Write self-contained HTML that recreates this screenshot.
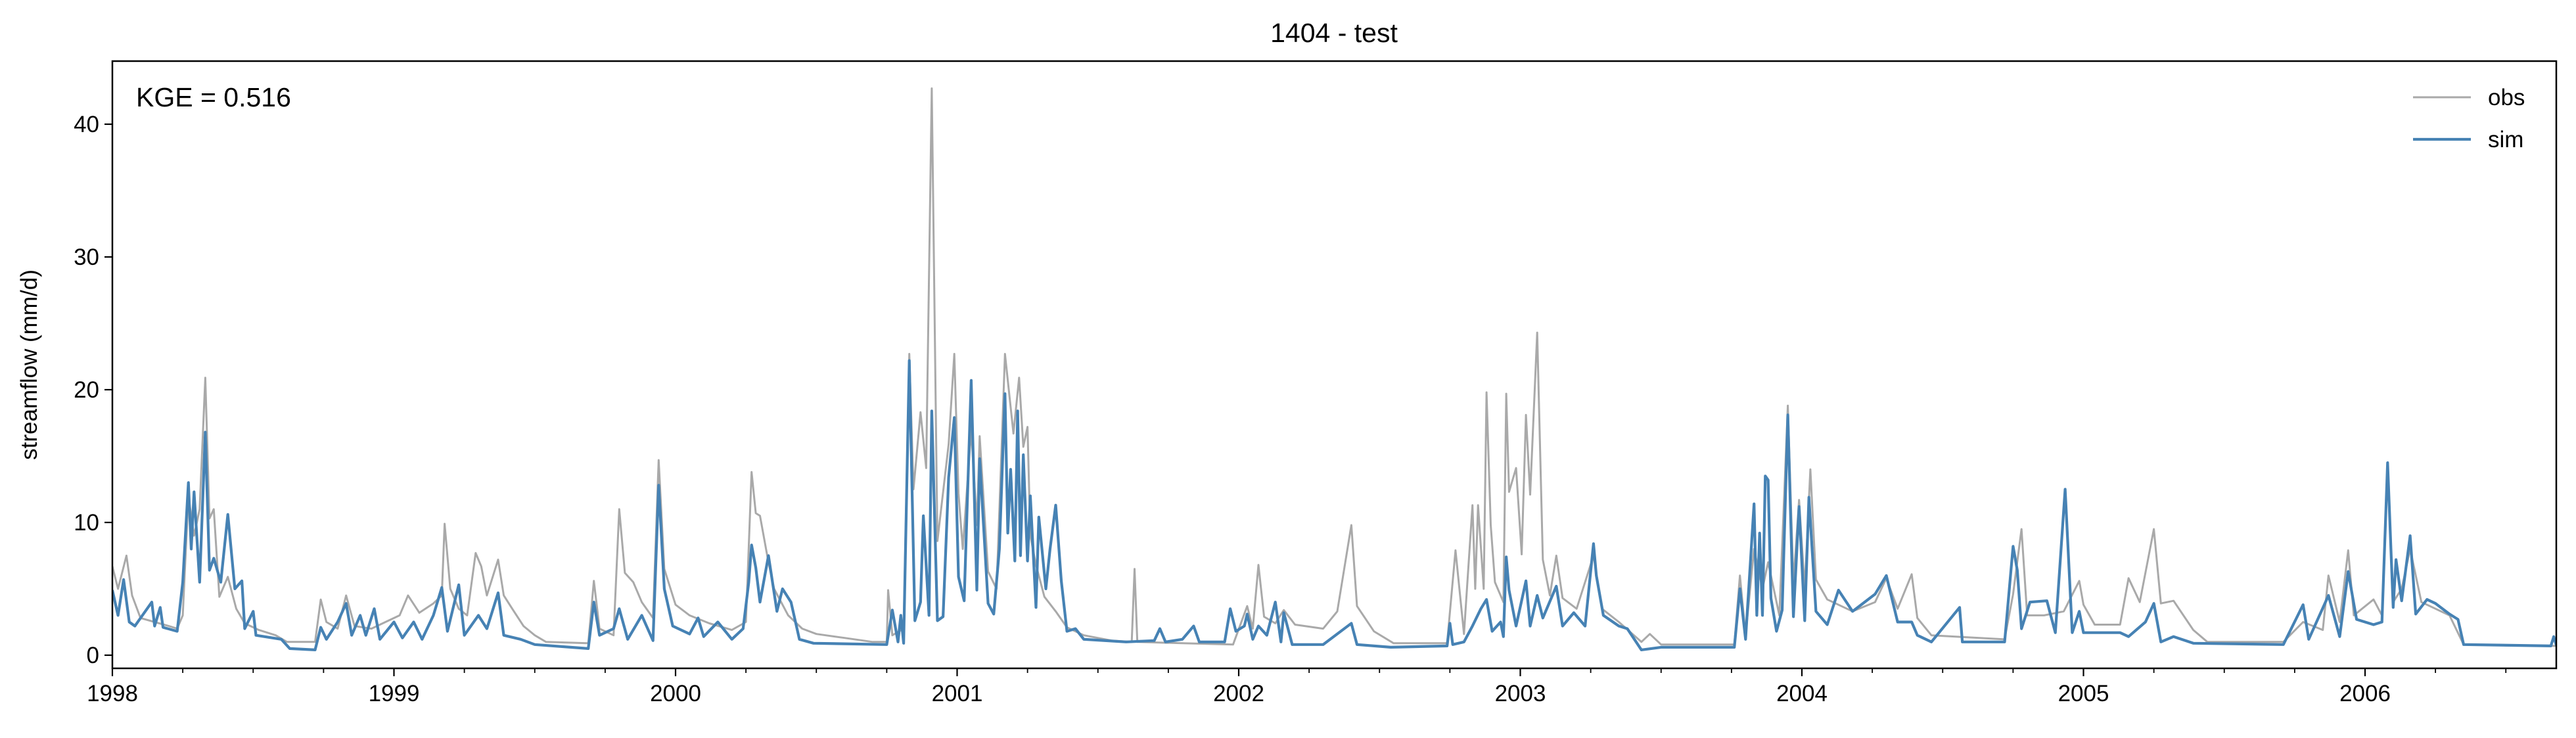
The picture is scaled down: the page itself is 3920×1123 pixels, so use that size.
<!DOCTYPE html>
<html><head><meta charset="utf-8"><style>
html,body{margin:0;padding:0;background:#fff;}
svg text{font-family:"Liberation Sans","DejaVu Sans",sans-serif;fill:#000;}
</style></head><body>
<svg id="chart" width="3920" height="1118" viewBox="0 0 3920 1118" xmlns="http://www.w3.org/2000/svg">
<defs><clipPath id="plotclip"><rect x="171" y="93" width="3719" height="924"/></clipPath></defs>
<rect width="3920" height="1118" fill="#fff"/>
<text x="2030" y="64" font-size="41" text-anchor="middle">1404 - test</text>
<text x="0" y="0" font-size="35" text-anchor="middle" transform="translate(56,555) rotate(-90)">streamflow (mm/d)</text>
<g id="ticks"></g>
<g id="series" clip-path="url(#plotclip)"></g>
<rect x="171" y="93" width="3719" height="924" fill="none" stroke="#000" stroke-width="2.5"/>
<text x="207" y="162" font-size="41">KGE = 0.516</text>
<g>
<line x1="3672" y1="148" x2="3760" y2="148" stroke="#a9a9a9" stroke-width="3"/>
<text x="3786" y="160" font-size="35">obs</text>
<line x1="3672" y1="212" x2="3760" y2="212" stroke="#4682b4" stroke-width="4.2"/>
<text x="3786" y="224" font-size="35">sim</text>
</g>
</svg>
<script>
const yTickValues = [0, 10, 20, 30, 40];
const xTickYears = [1998, 1999, 2000, 2001, 2002, 2003, 2004, 2005, 2006];
const obsDates = [1998.00,1998.02,1998.05,1998.07,1998.10,1998.15,1998.20,1998.23,1998.25,1998.27,1998.29,1998.31,1998.33,1998.345,1998.36,1998.38,1998.41,1998.44,1998.47,1998.52,1998.58,1998.62,1998.72,1998.74,1998.76,1998.80,1998.83,1998.86,1998.92,1998.97,1999.02,1999.05,1999.09,1999.14,1999.17,1999.18,1999.20,1999.23,1999.26,1999.29,1999.31,1999.33,1999.37,1999.39,1999.42,1999.46,1999.50,1999.54,1999.69,1999.71,1999.73,1999.78,1999.80,1999.82,1999.85,1999.88,1999.92,1999.94,1999.96,2000.00,2000.05,2000.12,2000.20,2000.25,2000.27,2000.285,2000.30,2000.33,2000.35,2000.40,2000.45,2000.50,2000.60,2000.70,2000.75,2000.755,2000.77,2000.81,2000.83,2000.845,2000.87,2000.89,2000.91,2000.93,2000.97,2000.99,2001.005,2001.02,2001.05,2001.07,2001.08,2001.11,2001.14,2001.17,2001.20,2001.22,2001.235,2001.25,2001.26,2001.28,2001.31,2001.35,2001.39,2001.45,2001.55,2001.62,2001.63,2001.64,2001.80,2001.98,2002.03,2002.05,2002.07,2002.09,2002.13,2002.16,2002.20,2002.30,2002.35,2002.40,2002.42,2002.48,2002.55,2002.74,2002.77,2002.80,2002.83,2002.84,2002.85,2002.87,2002.88,2002.895,2002.91,2002.94,2002.95,2002.96,2002.985,2003.005,2003.02,2003.035,2003.06,2003.08,2003.105,2003.128,2003.15,2003.20,2003.26,2003.29,2003.35,2003.43,2003.46,2003.50,2003.76,2003.78,2003.80,2003.83,2003.86,2003.88,2003.92,2003.95,2003.97,2003.99,2004.01,2004.03,2004.05,2004.09,2004.18,2004.26,2004.30,2004.34,2004.39,2004.41,2004.46,2004.72,2004.75,2004.78,2004.80,2004.86,2004.93,2004.985,2005.00,2005.04,2005.13,2005.16,2005.20,2005.25,2005.275,2005.32,2005.39,2005.44,2005.71,2005.78,2005.85,2005.87,2005.91,2005.94,2005.96,2006.03,2006.06,2006.08,2006.10,2006.13,2006.16,2006.20,2006.30,2006.35,2006.68];
const obsValues = [6.7,5.0,7.5,4.5,2.8,2.5,2.2,2.0,3.0,12.0,9.0,11.0,20.9,10.3,11.0,4.4,5.9,3.5,2.4,1.9,1.5,1.0,1.0,4.2,2.5,2.0,4.5,2.2,2.0,2.5,3.0,4.5,3.2,3.9,4.5,9.9,5.0,3.5,3.0,7.7,6.7,4.5,7.2,4.5,3.5,2.2,1.5,1.0,0.9,5.6,2.0,1.5,11.0,6.2,5.5,4.0,2.8,14.7,6.5,3.8,3.0,2.4,1.9,2.5,13.8,10.7,10.5,7.0,5.0,3.0,2.0,1.6,1.3,1.0,1.0,4.9,1.5,2.0,22.7,12.5,18.3,14.1,42.7,8.6,15.9,22.7,12.2,8.0,17.0,9.8,16.5,6.3,5.0,22.7,16.7,20.9,15.7,17.2,9.0,6.8,4.4,3.3,2.1,1.5,1.1,1.0,6.5,1.0,0.9,0.8,3.7,2.0,6.8,2.9,2.4,3.4,2.3,2.0,3.3,9.8,3.7,1.8,0.9,0.9,7.9,1.6,11.3,5.0,11.3,5.0,19.8,9.8,5.5,4.0,19.7,12.3,14.1,7.6,18.1,12.1,24.3,7.2,4.5,7.5,4.3,3.5,7.5,3.5,2.5,1.0,1.6,0.8,0.8,6.0,1.5,8.0,5.0,7.0,3.0,18.8,5.4,11.7,5.0,14.0,5.7,4.2,3.3,4.0,5.8,3.5,6.1,2.8,1.5,1.2,4.6,9.5,3.0,3.0,3.3,5.6,3.8,2.3,2.3,5.8,4.0,9.5,3.9,4.1,1.9,1.0,1.0,2.5,1.9,6.0,2.5,7.9,3.0,4.2,3.0,14.5,4.0,5.0,8.0,4.0,3.0,0.8,0.7];
const simDates = [1998.00,1998.02,1998.04,1998.06,1998.08,1998.14,1998.15,1998.17,1998.18,1998.23,1998.25,1998.27,1998.28,1998.29,1998.31,1998.33,1998.345,1998.36,1998.385,1998.41,1998.435,1998.46,1998.47,1998.50,1998.51,1998.60,1998.63,1998.72,1998.74,1998.76,1998.80,1998.83,1998.85,1998.88,1998.90,1998.93,1998.95,1999.00,1999.03,1999.07,1999.10,1999.14,1999.17,1999.19,1999.23,1999.25,1999.30,1999.33,1999.37,1999.39,1999.45,1999.50,1999.69,1999.71,1999.73,1999.78,1999.80,1999.83,1999.88,1999.92,1999.94,1999.96,1999.99,2000.05,2000.08,2000.10,2000.15,2000.20,2000.24,2000.26,2000.27,2000.285,2000.30,2000.33,2000.36,2000.38,2000.41,2000.44,2000.49,2000.75,2000.77,2000.79,2000.80,2000.81,2000.83,2000.85,2000.87,2000.88,2000.90,2000.91,2000.93,2000.95,2000.97,2000.99,2001.005,2001.025,2001.05,2001.07,2001.08,2001.11,2001.13,2001.15,2001.17,2001.18,2001.19,2001.205,2001.215,2001.225,2001.235,2001.25,2001.26,2001.28,2001.29,2001.315,2001.33,2001.35,2001.37,2001.39,2001.42,2001.45,2001.60,2001.70,2001.72,2001.74,2001.80,2001.84,2001.86,2001.95,2001.97,2001.99,2002.02,2002.03,2002.05,2002.07,2002.10,2002.13,2002.15,2002.16,2002.19,2002.30,2002.40,2002.42,2002.54,2002.74,2002.75,2002.76,2002.80,2002.83,2002.86,2002.88,2002.90,2002.93,2002.94,2002.95,2002.96,2002.985,2003.02,2003.035,2003.06,2003.08,2003.128,2003.15,2003.19,2003.23,2003.26,2003.27,2003.295,2003.35,2003.38,2003.43,2003.50,2003.76,2003.78,2003.80,2003.83,2003.84,2003.85,2003.86,2003.87,2003.88,2003.89,2003.91,2003.93,2003.95,2003.97,2003.99,2004.01,2004.025,2004.05,2004.09,2004.13,2004.18,2004.26,2004.30,2004.34,2004.39,2004.41,2004.46,2004.56,2004.57,2004.72,2004.75,2004.765,2004.78,2004.81,2004.87,2004.90,2004.935,2004.96,2004.985,2005.00,2005.13,2005.16,2005.22,2005.25,2005.275,2005.32,2005.39,2005.71,2005.78,2005.80,2005.87,2005.91,2005.94,2005.97,2006.03,2006.06,2006.08,2006.10,2006.11,2006.13,2006.16,2006.18,2006.22,2006.25,2006.30,2006.33,2006.35,2006.66,2006.67,2006.68];
const simValues = [4.9,3.0,5.7,2.5,2.2,4.0,2.2,3.6,2.1,1.8,5.5,13.0,8.0,12.3,5.5,16.8,6.4,7.3,5.5,10.6,5.0,5.6,2.0,3.3,1.5,1.2,0.5,0.4,2.1,1.2,2.5,3.9,1.5,3.0,1.5,3.5,1.2,2.5,1.3,2.5,1.2,3.0,5.1,1.8,5.3,1.5,3.0,2.0,4.7,1.5,1.2,0.8,0.5,4.0,1.5,2.0,3.5,1.2,3.0,1.1,12.8,5.0,2.2,1.6,2.8,1.4,2.5,1.2,2.0,5.5,8.3,6.6,4.0,7.5,3.3,5.0,4.0,1.2,0.9,0.8,3.4,1.0,3.0,0.9,22.2,2.6,4.0,10.5,3.0,18.4,2.6,2.9,13.4,17.9,5.9,4.1,20.7,4.9,14.8,3.9,3.1,8.0,19.7,9.2,14.0,7.1,18.4,7.5,15.1,7.1,12.0,3.6,10.4,5.0,8.0,11.3,5.6,1.8,2.0,1.2,1.0,1.1,2.0,1.0,1.2,2.2,1.0,1.0,3.5,1.8,2.2,3.1,1.2,2.2,1.5,4.0,1.0,3.2,0.8,0.8,2.4,0.8,0.6,0.7,2.4,0.8,1.0,2.2,3.5,4.2,1.8,2.5,1.4,7.4,4.9,2.2,5.6,2.2,4.5,2.8,5.2,2.2,3.2,2.2,8.4,6.0,3.0,2.2,2.0,0.4,0.6,0.6,5.0,1.2,11.4,3.0,9.2,3.0,13.5,13.2,4.3,1.8,3.4,18.1,2.9,11.2,2.6,11.9,3.3,2.3,4.9,3.3,4.6,6.0,2.5,2.5,1.5,1.0,3.6,1.0,1.0,8.2,6.4,2.0,4.0,4.1,1.7,12.5,1.7,3.3,1.7,1.7,1.4,2.5,3.9,1.0,1.4,0.9,0.8,3.8,1.2,4.5,1.4,6.3,2.7,2.3,2.5,14.5,3.6,7.2,4.1,9.0,3.1,4.2,3.9,3.1,2.7,0.8,0.7,1.4,0.7];

const NS = 'http://www.w3.org/2000/svg';
const X0 = 171, XPY = 428.5, Y0 = 997, YPU = 20.2, BOTTOM = 1017;
function xScale(t){ return X0 + (t - 1998) * XPY; }
function yScale(v){ return Y0 - v * YPU; }

const ticks = document.getElementById('ticks');
yTickValues.forEach(v => {
  const y = yScale(v);
  const ln = document.createElementNS(NS, 'line');
  ln.setAttribute('x1', X0 - 12); ln.setAttribute('x2', X0);
  ln.setAttribute('y1', y); ln.setAttribute('y2', y);
  ln.setAttribute('stroke', '#000'); ln.setAttribute('stroke-width', '2.2');
  
  
  ticks.appendChild(ln);
  const tx = document.createElementNS(NS, 'text');
  tx.setAttribute('x', X0 - 20); tx.setAttribute('y', y + 12);
  tx.setAttribute('font-size', '35'); tx.setAttribute('text-anchor', 'end');
  tx.textContent = String(v);
  
  
  ticks.appendChild(tx);
});
xTickYears.forEach(yr => {
  const x = xScale(yr);
  const ln = document.createElementNS(NS, 'line');
  ln.setAttribute('x1', x); ln.setAttribute('x2', x);
  ln.setAttribute('y1', BOTTOM); ln.setAttribute('y2', BOTTOM + 12);
  ln.setAttribute('stroke', '#000'); ln.setAttribute('stroke-width', '2.2');
  
  
  ticks.appendChild(ln);
  const tx = document.createElementNS(NS, 'text');
  tx.setAttribute('x', x); tx.setAttribute('y', BOTTOM + 50);
  tx.setAttribute('font-size', '35'); tx.setAttribute('text-anchor', 'middle');
  tx.textContent = String(yr);
  
  
  ticks.appendChild(tx);
  for (let q = 1; q < 4; q++) {
    const xm = xScale(yr + q / 4);
    if (xm > 3890) continue;
    const mn = document.createElementNS(NS, 'line');
    mn.setAttribute('x1', xm); mn.setAttribute('x2', xm);
    mn.setAttribute('y1', BOTTOM); mn.setAttribute('y2', BOTTOM + 7);
    mn.setAttribute('stroke', '#000'); mn.setAttribute('stroke-width', '1.8');
    
    
    ticks.appendChild(mn);
  }
});

const series = document.getElementById('series');
function pathFor(dates, vals){
  return dates.map((t, i) => (i ? 'L' : 'M') + xScale(t).toFixed(1) + ' ' + yScale(vals[i]).toFixed(1)).join(' ');
}
const obsPath = document.createElementNS(NS, 'path');
obsPath.setAttribute('d', pathFor(obsDates, obsValues));
obsPath.setAttribute('fill', 'none'); obsPath.setAttribute('stroke', '#a9a9a9');
obsPath.setAttribute('stroke-width', '3'); obsPath.setAttribute('stroke-linejoin', 'round');


series.appendChild(obsPath);
const simPath = document.createElementNS(NS, 'path');
simPath.setAttribute('d', pathFor(simDates, simValues));
simPath.setAttribute('fill', 'none'); simPath.setAttribute('stroke', '#4682b4');
simPath.setAttribute('stroke-width', '4.2'); simPath.setAttribute('stroke-linejoin', 'round');


series.appendChild(simPath);
</script>
</body></html>
